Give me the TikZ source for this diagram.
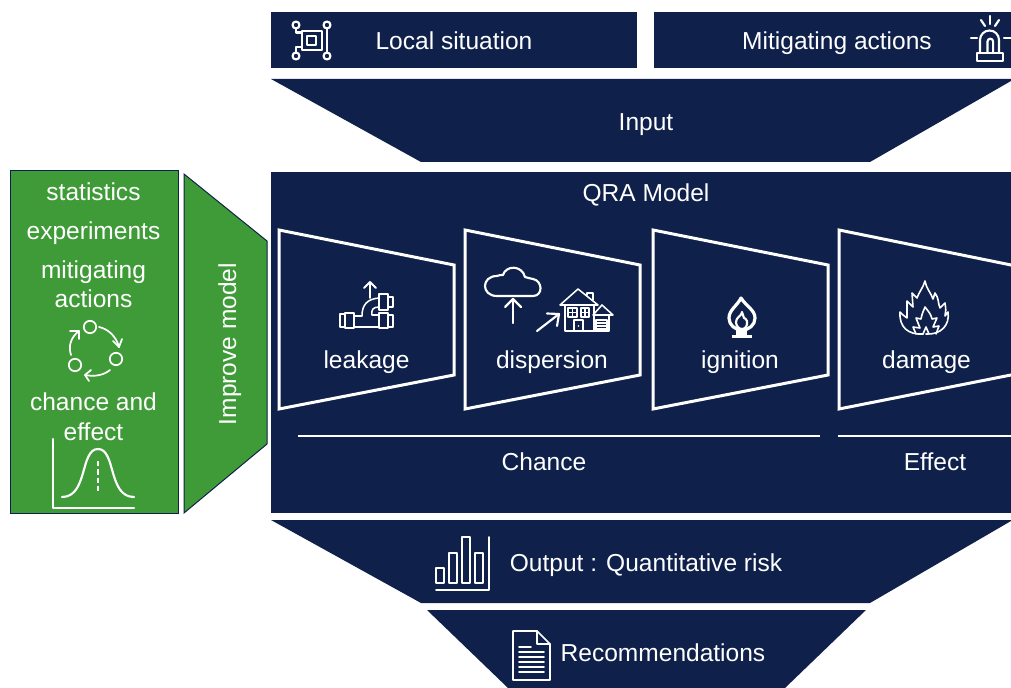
\documentclass[tikz,border=0pt]{standalone}
\usepackage{fontspec}
\setmainfont{Liberation Sans}
\definecolor{navy}{HTML}{0F214B}
\definecolor{grn}{HTML}{3F9B38}
\tikzset{
  panel/.style={fill=navy,draw=none},
  greenpanel/.style={fill=grn,draw=navy,line width=0.75pt},
  frame/.style={draw=white,line width=2.25pt,miter limit=4},
  rule/.style={draw=white,line width=1.5pt},
  ic/.style={draw=white,line width=1.15pt,line cap=round,line join=round},
  icb/.style={draw=white,line width=1.6pt,line cap=round,line join=round},
  lab/.style={text=white,font=\fontsize{18.4}{22}\selectfont,inner sep=0pt,anchor=base}
}
\begin{document}
\begin{tikzpicture}[x=0.75pt,y=-0.75pt]
\useasboundingbox (0,0) rectangle (1011,688);
\begin{scope}
\clip (0,0) rectangle (1011,688);
% panels
\path[panel] (271,12) rectangle (637,68);
\path[panel] (654,12) rectangle (1011,68);
\path[panel] (271,79) -- (1011,79) -- (1011,81) -- (870,162) -- (421,162) -- cycle;
\path[panel] (271,172) rectangle (1011,513);
\path[panel] (271,520) -- (1011,520) -- (1011,521) -- (870,603) -- (421,603) -- cycle;
\path[panel] (427,610) -- (866,610) -- (785,688) -- (508,688) -- cycle;
\path[greenpanel] (10,171) rectangle (178,513);
\path[greenpanel] (184,174) -- (267,241) -- (267,444) -- (184,513) -- cycle;
% funnels
\path[frame] (279,230) -- (454,265) -- (454,375) -- (279,409) -- cycle;
\path[frame] (465,230) -- (640,265) -- (640,375) -- (465,409) -- cycle;
\path[frame] (653,230) -- (828,265) -- (828,375) -- (653,409) -- cycle;
\path[frame] (839,230) -- (1016,266) -- (1016,374) -- (839,409) -- cycle;
\path[rule] (298,436) -- (820,436);
\path[rule] (838,436) -- (1011,436);
% labels
\node[lab] (local) at (454,50) {Local situation};
\node[lab] (mit) at (837,50) {Mitigating actions};
\node[lab] (input) at (646,131) {Input};
\node[lab] (qra) at (646,202) {QRA Model};
\node[lab] (leak) at (366.5,368) {leakage};
\node[lab] (disp) at (552,368) {dispersion};
\node[lab] (ign) at (740,368) {ignition};
\node[lab] (dam) at (926.5,368) {damage};
\node[lab] (chance) at (544,470) {Chance};
\node[lab] (effect) at (935,470) {Effect};
\node[lab] (output) at (646,571) {Output : Quantitative risk};
\node[lab] (rec) at (663,661) {Recommendations};
\node[lab] (stat) at (93.5,201) {statistics};
\node[lab] (exp) at (93.5,239) {experiments};
\node[lab] (mit1) at (93.5,279) {mitigating};
\node[lab] (mit2) at (93.5,307) {actions};
\node[lab] (ch1) at (93.5,410) {chance and};
\node[lab] (ch2) at (93.5,440) {effect};
\node[lab,rotate=90] (imp) at (236,344) {Improve model};
% icon: local situation
\begin{scope}[icb]
\draw (296,25) circle (3.5); \draw (327,25) circle (3.5);
\draw (296,56) circle (3.5); \draw (327,56) circle (3.5);
\draw (302,31) rectangle (322,50);
\draw (307,36) rectangle (316,45);
\draw (296,28.5) -- (296,32.5) -- (302,32.5);
\draw (327,28.5) -- (327,52.5);
\draw (296,52.5) -- (296,47) -- (302,47);
\end{scope}
% icon: siren
\begin{scope}[icb]
\draw (977,53) rectangle (1003,61);
\draw (980,53) -- (980,40) arc (180:360:9.5) -- (999,53);
\draw (987.5,53) -- (987.5,41.5) arc (180:360:2.8) -- (993.1,53);
\draw (990,16) -- (990,24);
\draw (981,20) -- (985,26);
\draw (999,20) -- (995,26);
\draw (971,38) -- (977,38);
\draw (1004,38) -- (1011,38);
\end{scope}
% icon: cycle
\begin{scope}[ic,line width=1.3pt]
\draw (90,327) circle (6.2);
\draw (116,359) circle (6.2);
\draw (75,365) circle (6.2);
\draw (99,327) .. controls (108,329) and (116,336) .. (119,347);
\draw (113,341) -- (119,347) -- (122,339);
\draw (110,370) .. controls (104,375) and (95,377) .. (85,375);
\draw (91,370) -- (85,375) -- (89,381);
\draw (71,355) .. controls (68,346) and (71,337) .. (79,331);
\draw (70,331) -- (79,331) -- (79,339);
\end{scope}
% icon: gaussian
\begin{scope}[icb]
\draw (53,439) -- (53,508) -- (134,508);
\draw (62,497) .. controls (88,497) and (80,449) .. (98,449) .. controls (116,449) and (108,497) .. (134,497);
\draw[dash pattern=on 4pt off 2.2pt,line cap=butt,line width=2.2pt] (98,461) -- (98,494);
\end{scope}
% icon: pipes
\begin{scope}[ic]
\draw (340,314) rectangle (345,327);
\draw (345,313) rectangle (354,328);
\draw (354,316) -- (362,316) .. controls (362,305) and (367,299) .. (379,298);
\draw (354,327) -- (379,327);
\draw (379,294) rectangle (388,310);
\draw (388,297) rectangle (393,307);
\draw (379,313) rectangle (388,328);
\draw (388,315) rectangle (393,327);
\draw (379,307) .. controls (373,307) and (371,310) .. (372,315) -- (379,315);
\draw[line width=1.4pt] (370,298) -- (370,282);
\draw[line width=1.4pt] (364,288) -- (370,282) -- (376,288);
\end{scope}
% icon: cloud and arrow
\begin{scope}[icb]
\draw (497,296) .. controls (481,296) and (481,276) .. (497,276) .. controls (499,275) and (501,275) .. (503,275)
  .. controls (506,265) and (522,265) .. (525,277) .. controls (527,278) and (530,278) .. (533,279)
  .. controls (543,281) and (543,296) .. (533,296) -- cycle;
\draw (513,323) -- (513,299);
\draw (505,307) -- (513,299) -- (521,307);
\draw (537,331) -- (559,314);
\draw (547,313.5) -- (559,314) -- (557,326);
\end{scope}
% icon: house
\begin{scope}[ic]
\draw (560,305) -- (578,289) -- (598,305) -- cycle;
\draw (565,305) -- (565,331) -- (609,331) -- (609,315);
\draw (594,305) -- (594,331);
\draw (587,295) -- (587,293) -- (593,293) -- (593,300);
\draw (593,315) -- (602,305) -- (613,315) -- cycle;
\draw (568,308) rectangle (577,317); \draw (572.5,308) -- (572.5,317); \draw (568,312.5) -- (577,312.5);
\draw (581,308) rectangle (589,317); \draw (585,308) -- (585,317); \draw (581,312.5) -- (589,312.5);
\draw (574,320) rectangle (583,331);
\fill[white] (578.5,326) circle (0.9);
\draw (596,320) rectangle (607,331);
\draw (596,323) -- (607,323); \draw (596,326) -- (607,326); \draw (596,329) -- (607,329);
\end{scope}
% icon: ignition flame
\begin{scope}[draw=white]
\draw[line width=2.4pt,line join=round] (741,298) .. controls (737,306) and (729,310) .. (729,318) .. controls (729,325) and (735,330) .. (742,330) .. controls (749,330) and (755,325) .. (755,318) .. controls (755,310) and (746,306) .. (741,298) -- cycle;
\draw[line width=1.6pt,line join=round] (742,312) .. controls (742,316) and (736,317) .. (736,322) .. controls (736,326) and (739,329) .. (742,329) .. controls (745,329) and (748,326) .. (747,321) .. controls (746,318) and (745,319) .. (744,318) -- cycle;
\fill[white] (732,335) rectangle (752,338);
\fill[white] (736,329) rectangle (747,335);
\end{scope}
% icon: damage fire
\begin{scope}[ic,line width=1.2pt]
\draw (923,334) .. controls (908,335) and (899,327) .. (900,312) .. controls (902,315) and (905,316) .. (907,318)
 -- (907,301) -- (913,307) -- (912,293) -- (917,298) .. controls (919,292) and (923,288) .. (925,281) .. controls (926,288) and (931,293) .. (933,299) -- (935,293) .. controls (939,298) and (938,304) .. (940,308) -- (945,303) .. controls (946,309) and (946,312) .. (945,316) -- (948,312) .. controls (950,325) and (941,335) .. (926,334);
\draw (916,334) -- (913,327) -- (920,328) -- (916,318) -- (921,319) .. controls (922,313) and (924,310) .. (925,307) .. controls (928,311) and (931,314) .. (932,319) -- (937,318) -- (933,327) -- (939,326) -- (936,334);
\draw (923,334) -- (926,327) -- (929,334);
\end{scope}
% icon: bars
\begin{scope}[ic]
\draw (436,568) rectangle (444,583);
\draw (449,553) rectangle (457,583);
\draw (462,537) rectangle (470,583);
\draw (475,553) rectangle (483,583);
\draw (436,590) -- (489,590) -- (489,537);
\end{scope}
% icon: document
\begin{scope}[ic]
\draw (513,631) -- (537,631) -- (550,644) -- (550,680) -- (513,680) -- cycle;
\draw (537,631) -- (537,644) -- (550,644);
\draw (519,647) -- (531,647);
\draw (519,652) -- (544,652);
\draw (519,657) -- (544,657);
\draw (519,662) -- (544,662);
\draw (519,667) -- (544,667);
\draw (519,672) -- (544,672);
\end{scope}
\end{scope}
\end{tikzpicture}
\end{document}
